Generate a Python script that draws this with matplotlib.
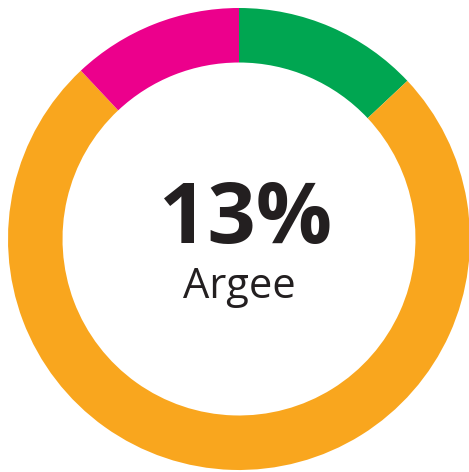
import matplotlib
matplotlib.use("Agg")
import matplotlib.pyplot as plt

# Share of responses, drawn clockwise from 12 o'clock
categories = ['Argee', 'Neutral', 'Disagree']
shares = [13, 75, 12]
colors = ['#00A651', '#F9A61E', '#EC008C']

highlight = 0  # slice whose value goes in the centre

W, H = 469, 472
cx, cy, r_px = 239, 239, 231

fig = plt.figure(figsize=(W / 100, H / 100), dpi=100)
ax = fig.add_axes([0, 0, 1, 1])

ax.pie(shares, colors=colors, startangle=90, counterclock=False, radius=1,
       wedgeprops=dict(width=0.236, linewidth=0))

# keep one data unit = r_px pixels, centre at (cx, cy) from top-left
ax.set_xlim(-cx / r_px, (W - cx) / r_px)
ax.set_ylim(-(H - cy) / r_px, cy / r_px)
ax.set_aspect('auto')
ax.axis('off')

ax.text(0.03, -0.017, f'{shares[highlight]}%', ha='center', va='baseline',
        fontsize=61, fontweight='bold', family='Open Sans', color='#231F20')
ax.text(0.0, -0.256, categories[highlight], ha='center', va='baseline',
        fontsize=30, family='Open Sans', color='#231F20')

fig.savefig('out.png', dpi=100)
